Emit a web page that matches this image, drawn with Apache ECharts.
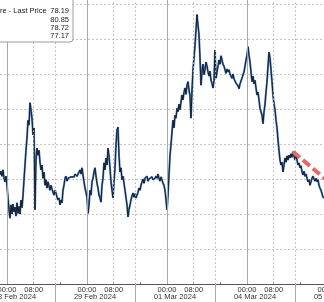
<!DOCTYPE html>
<html><head><meta charset="utf-8">
<script src="https://cdn.jsdelivr.net/npm/echarts@6/dist/echarts.min.js"></script>
<style>html,body{margin:0;padding:0;background:#fff;overflow:hidden}#c{width:324px;height:302px}</style>
</head><body><div id="c"></div>
<script>
// Sampling step (hours) of the intraday price readings
const stepHours = 0.3;
// Hours offset (weekend compressed): 28 Feb 00:00 = 0
const feb27CloseStart = -2.1;
const feb27Close = [78.56,78.61,78.54,78.63,78.51,78.46,78.54];
const feb28 = [78.40,78.23,78.06,77.94,78.13,78.00,78.14,78.03,78.10,77.97,
  78.16,78.01,78.11,78.00,78.20,78.09,78.26,78.49,78.70,78.91,
  79.09,79.34,79.27,79.59,79.49,79.37,79.13,79.23,78.06,78.77,
  78.94,78.84,78.91,78.74,78.63,78.70,78.51,78.60,78.41,78.49,
  78.37,78.46,78.40,78.34,78.41,78.40,78.31,78.27,78.34,78.30,
  78.24,78.20,78.23,78.13,78.20,78.16,78.34,78.41,78.51,78.54,
  78.47,78.51,78.49,78.50,78.53,78.54,78.51,78.53,78.57,78.59,
  78.54,78.56,78.60,78.63,78.57,78.66,78.56,78.46,78.37,78.31];
const feb29 = [78.24,78.01,78.13,78.34,78.27,78.46,78.51,78.60,78.66,78.54,
  78.44,78.37,78.27,78.23,78.17,78.41,78.51,78.73,78.63,78.80,
  78.70,78.94,78.83,78.66,78.46,78.34,78.23,78.46,78.66,78.99,
  79.20,79.24,78.84,78.60,78.66,78.49,78.54,78.44,78.34,78.23,
  78.13,77.96,78.06,78.13,78.20,78.26,78.30,78.24,78.29,78.23,
  78.27,78.31,78.37,78.34,78.41,78.46,78.50,78.44,78.51,78.49,
  78.54,78.47,78.50,78.51,78.49,78.53,78.49,78.50,78.51,78.54,
  78.51,78.57,78.51,78.47,78.53,78.49,78.44,78.41,78.34,78.20];
const mar01 = [78.06,78.27,78.56,78.84,78.99,79.17,79.34,79.23,79.41,79.37,
  79.51,79.46,79.57,79.49,79.60,79.70,79.63,79.74,79.80,79.71,
  79.84,79.89,79.77,79.69,79.37,79.77,80.06,80.23,80.41,80.63,
  80.85,80.70,80.56,80.23,79.84,80.03,80.14,79.99,80.06,80.17,
  80.11,80.03,79.97,80.04,79.91,79.86,79.80,79.91,80.34,79.94,
  80.03,80.11,80.20,80.14,80.26,80.20,80.14,80.11,80.06,80.01,
  80.07,80.03,80.06,80.00,79.97,79.94,80.00,79.93,79.91,79.87,
  79.86,79.83,79.79,79.86,79.90,79.94,79.99,80.03,80.11,80.20];
const mar04 = [80.27,80.39,80.27,80.17,80.03,79.89,79.97,79.86,79.91,79.80,
  79.70,79.74,79.63,79.51,79.49,79.41,79.29,79.46,79.57,79.74,
  79.89,80.11,80.31,80.23,80.06,79.89,79.70,79.57,79.49,79.34,
  79.23,79.06,78.91,78.77,78.70,78.74,78.60,78.70,78.80,78.74,
  78.83,78.77,78.84,78.80,78.86,78.81,78.89,78.83,78.77,78.83,
  78.77,78.70,78.73,78.66,78.69,78.60,78.56,78.61,78.54,78.57,
  78.51,78.46,78.49,78.41,78.46,78.51,78.54,78.50,78.47,78.51,
  78.46,78.49,78.41,78.37,78.34,78.29,78.24,78.23];

const dayStarts = [0, 24, 48, 72, 96];
const dayLabels = ['28 Feb 2024', '29 Feb 2024', '01 Mar 2024', '04 Mar 2024', '05 Mar 2024'];
const hourLabels = {0: '00:00', 8: '08:00'};
const dateLabelOffset = 2.4;     // hours after midnight where date text is centred
const dateSeparatorOffset = -9.6; // hours relative to midnight of date separators
const yTicks = {min: 77, max: 81.5, interval: 0.5};

const legendName = 're - Last Price';
const legendValues = ['78.19', '80.85', '78.72', '77.17'];

const trendTimes = [85.8, 96];
const trendPrices = [78.89, 78.48];

const sessions = [
  {start: feb27CloseStart, prices: feb27Close},
  {start: dayStarts[0], prices: feb28},
  {start: dayStarts[1], prices: feb29},
  {start: dayStarts[2], prices: mar01},
  {start: dayStarts[3], prices: mar04}
];
const lineData = [];
sessions.forEach(s => s.prices.forEach((p, i) => lineData.push([+(s.start + i * stepHours).toFixed(2), p])));

const xMin = -8, xMax = 104;
const dotted = [1.5, 2.5];
const markLines = [];
dayStarts.forEach(d => {
  markLines.push({xAxis: d, lineStyle: {type: 'solid', color: '#a8a8a8', width: 1}});
  markLines.push({xAxis: d + 8, lineStyle: {type: dotted, color: '#b4b4b4', width: 1}});
  markLines.push({xAxis: d + 24 + dateSeparatorOffset, lineStyle: {type: dotted, color: '#b4b4b4', width: 1}});
});

const chart = echarts.init(document.getElementById('c'), null, {renderer: 'canvas'});
const font = 'Liberation Sans, Arial, sans-serif';
chart.setOption({
  animation: false,
  backgroundColor: '#fff',
  grid: {left: -19.667, right: -29.667, top: -31, bottom: 18, containLabel: false, outerBoundsMode: 'none'},
  xAxis: [{
    type: 'value', min: xMin, max: xMax, interval: 8, position: 'bottom',
    axisLine: {show: true, lineStyle: {color: '#555', width: 1}},
    axisTick: {show: true, inside: true, length: 2, lineStyle: {color: '#777'}},
    splitLine: {show: false},
    axisLabel: {
      show: true, margin: 2, fontSize: 7.5, fontFamily: font, color: '#333', showMaxLabel: true, showMinLabel: true, hideOverlap: false,
      formatter: v => { const h = ((v % 24) + 24) % 24; return hourLabels[h] || ''; }
    }
  }, {
    type: 'value', min: xMin, max: xMax, position: 'bottom',
    axisLine: {show: false},
    axisTick: {show: true, length: 18, customValues: dayStarts.map(d => d + dateSeparatorOffset), lineStyle: {color: '#aaa'}},
    splitLine: {show: false},
    axisLabel: {
      show: true, margin: 9, fontSize: 7.5, fontFamily: font, color: '#333', hideOverlap: false,
      customValues: dayStarts.map(d => d + dateLabelOffset),
      formatter: v => { const i = dayStarts.indexOf(Math.round((v - dateLabelOffset) * 10) / 10); return i >= 0 ? dayLabels[i] : ''; }
    }
  }],
  yAxis: {
    type: 'value', min: yTicks.min, max: yTicks.max, interval: yTicks.interval,
    axisLine: {show: false}, axisTick: {show: false}, axisLabel: {show: false},
    splitLine: {show: true, lineStyle: {type: dotted, color: '#b4b4b4', width: 1}}
  },
  series: [{
    type: 'line', data: [], silent: true, z: 1,
    markLine: {symbol: ['none', 'none'], silent: true, label: {show: false}, data: markLines, animation: false}
  }, {
    type: 'line', data: lineData, showSymbol: false, symbol: 'none', sampling: null, z: 3,
    lineStyle: {color: '#4a7cc2', width: 2}
  }, {
    type: 'line', data: lineData, showSymbol: false, symbol: 'none', sampling: null, z: 4,
    lineStyle: {color: '#10151c', width: 0.9}
  }, {
    type: 'line', data: trendTimes.map((t, i) => [t, trendPrices[i]]), showSymbol: false, symbol: 'none', z: 5,
    lineStyle: {color: '#e26a64', width: 4, type: [9, 4]}
  }],
  graphic: [{
    type: 'rect', z: 100, shape: {x: -6, y: -6, width: 79, height: 48, r: 3},
    style: {fill: '#fff', stroke: '#9a9a9a', lineWidth: 1}
  }, {
    type: 'text', z: 101, x: 0, y: 11,
    style: {text: legendName, font: '7.5px ' + font, fill: '#222', textVerticalAlign: 'middle'}
  }].concat(legendValues.map((v, i) => ({
    type: 'text', z: 101, x: 69, y: [11, 19.5, 28, 36][i],
    style: {text: v, font: '7.5px ' + font, fill: '#222', textAlign: 'right', textVerticalAlign: 'middle'}
  })))
});
</script>
</body></html>
